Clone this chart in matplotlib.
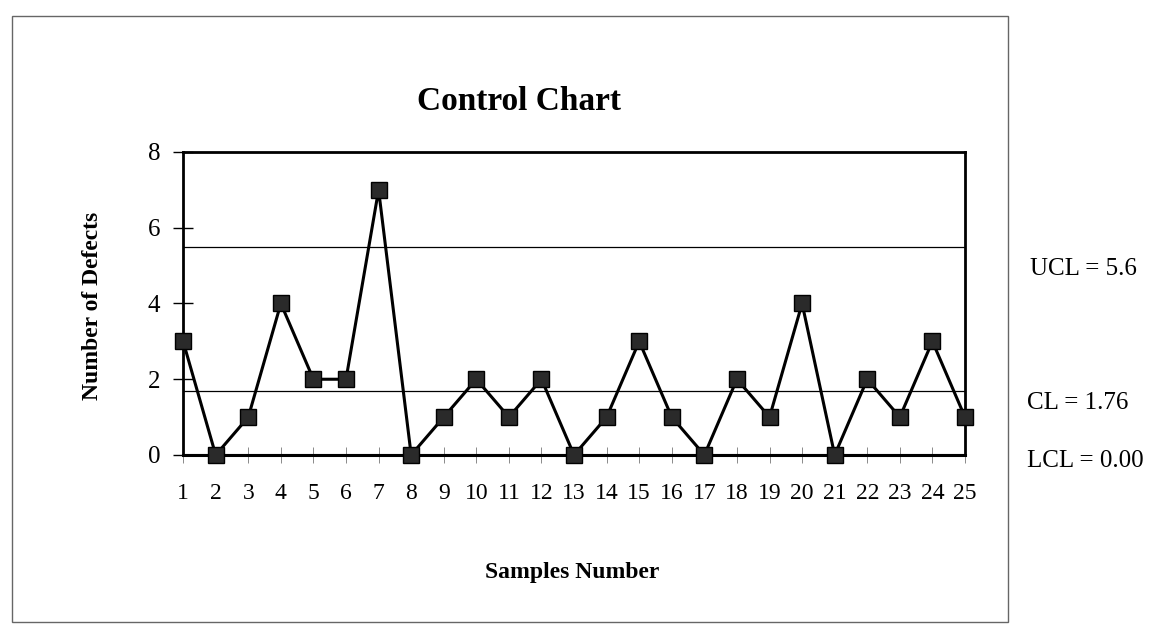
import numpy as np
import matplotlib
matplotlib.use("Agg")
import matplotlib.pyplot as plt
from matplotlib.patches import Rectangle

# defects per sample
samples = np.arange(1, 26)
defects = [3, 0, 1, 4, 2, 2, 7, 0, 1, 2, 1, 2, 0, 1, 3, 1, 0, 2, 1, 4, 0, 2, 1, 3, 1]
ucl = 5.5
cl = 1.7
lcl = 0.0
limit_labels = ["UCL = 5.6", "CL = 1.76", "LCL = 0.00"]

plt.rcParams['font.family'] = ['Liberation Serif', 'DejaVu Serif']

fig = plt.figure(figsize=(11.59, 6.28), dpi=100)
ax = fig.add_axes([0.158, 0.2755, 0.6746, 0.4825])

ax.axhline(ucl, color='black', lw=0.9)
ax.axhline(cl, color='black', lw=0.9)
ax.axhline(lcl, color='black', lw=2.2)
ax.plot(samples, defects, color='black', lw=2.2, marker='s', markersize=12,
        markerfacecolor='#2a2a2a', markeredgecolor='black', clip_on=False, zorder=3)

ax.set_xlim(1, 25)
ax.set_ylim(0, 8)
ax.set_xticks(samples)
ax.set_yticks([0, 2, 4, 6, 8])
ax.tick_params(axis='y', direction='inout', length=15, width=1, labelsize=18, pad=9)
ax.tick_params(axis='x', direction='inout', length=12, width=0.6, color='#777777',
               labelsize=17, pad=14)
for sp in ax.spines.values():
    sp.set_linewidth(2)
ax.spines['bottom'].set_linewidth(2.2)

fig.text(0.448, 0.838, "Control Chart", ha='center', va='center', fontsize=24, fontweight='bold')
fig.text(0.494, 0.088, "Samples Number", ha='center', va='center', fontsize=17, fontweight='bold')
fig.text(0.080, 0.513, "Number of Defects", ha='center', va='center', rotation=90,
         fontsize=17, fontweight='bold')

fig.text(0.889, 0.572, limit_labels[0], ha='left', va='center', fontsize=18)
fig.text(0.886, 0.358, limit_labels[1], ha='left', va='center', fontsize=18)
fig.text(0.886, 0.266, limit_labels[2], ha='left', va='center', fontsize=18)

# outer chart frame
fig.patches.append(Rectangle((0.0104, 0.0096), 0.859, 0.965, transform=fig.transFigure,
                             fill=False, edgecolor='#666666', lw=1))

fig.savefig("out.png", dpi=100)
